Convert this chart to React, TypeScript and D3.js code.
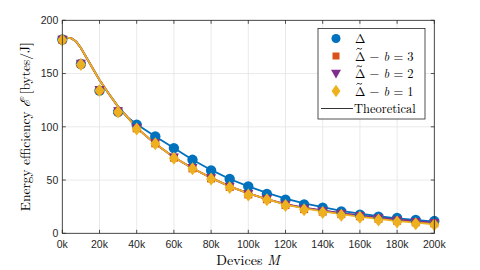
import * as d3 from "d3";

// devices (thousands) for the simulated points
const devicesK = [0, 10, 20, 30, 40, 50, 60, 70, 80, 90, 100, 110, 120, 130, 140, 150, 160, 170, 180, 190, 200];
const deltaVals = [182, 159, 134, 114, 102, 91, 80, 69, 59, 51, 44, 37, 31.5, 27, 24, 20.5, 17.5, 15.5, 14.5, 12.5, 11.5];
const b3Vals = [181.8, 159, 134.5, 114.5, 98.6, 84.5, 71, 61, 51.5, 43.5, 36.5, 32, 26.6, 22.7, 20.3, 18, 16, 13.6, 11.8, 10.3, 9.4];
const b2Vals = [182, 159.3, 134.8, 114.8, 99, 84.8, 71.3, 61.4, 51.9, 43.9, 37, 32.4, 27, 23.2, 20.8, 18.5, 16.5, 14.1, 12.3, 10.8, 9.9];
const b1Vals = [181.5, 158.5, 134, 114, 98, 84, 70.5, 60.5, 51, 43, 36, 31.5, 26, 22, 19.5, 17, 15, 12.5, 10.5, 9, 8];

// theoretical curves
const theoryK = [0, 2.5, 5, 7.5, 10, 15, 20, 25, 30, 35, 40, 50, 60, 70, 80, 90, 100, 110, 120, 130, 140, 150, 160, 170, 180, 190, 200];
const thDelta = [183.5, 183.8, 183, 180, 174, 159, 144, 131, 119, 109, 102.5, 91, 80, 69, 59.5, 51, 44, 38, 32.5, 28, 24.5, 21, 18.5, 16, 14, 12.5, 11];
const thB3 = [183.5, 183.8, 183, 180, 174, 159, 144, 131, 119, 109, 99, 84, 71.5, 61, 52, 44, 37.5, 32, 27.2, 23.8, 21, 18.6, 16.3, 14.3, 12.5, 11, 9.6];
const thB2 = [183.5, 183.8, 183, 180, 174, 159, 144, 131, 119, 109, 99, 84, 71.5, 61, 52, 44, 37.5, 32, 27.4, 24, 21.4, 19, 16.7, 14.7, 12.9, 11.4, 10];
const thB1 = [183.5, 183.8, 183, 180, 174, 159, 144, 131, 119, 109, 99, 84, 71.5, 61, 52, 44, 37.5, 32, 27, 23.5, 20.5, 18, 15.5, 13.5, 11.5, 10, 8.5];

const xTicks = [0, 20, 40, 60, 80, 100, 120, 140, 160, 180, 200];
const yTicks = [0, 50, 100, 150, 200];
const legendBs = ["3", "2", "1"];

const blue = "#0072BD";
const red = "#D95319";
const purple = "#7E2F8E";
const yellow = "#EDB120";
const axisCol = "#262626";
const sans = "'Liberation Sans', Arial, sans-serif";
const serif = "'Latin Modern Roman', 'DejaVu Serif', 'Liberation Serif', serif";

const diamond = "M0,-6.5 L5,0 L0,6.5 L-5,0 Z";
const tri = "M-5,-3.8 L5,-3.8 L0,5 Z";

function Tilde(props: { x: number; y: number }) {
  const { x, y } = props;
  return (
    <path
      d={`M${x},${y + 1} q1.2,-2 2.8,-0.8 t2.8,-0.4`}
      fill="none"
      stroke="#000"
      strokeWidth={0.8}
    />
  );
}

export default function App() {
  const x = d3.scaleLinear().domain([0, 200]).range([62.3, 434.3]);
  const y = d3.scaleLinear().domain([0, 200]).range([233.3, 20.3]);

  const line = d3
    .line<[number, number]>()
    .x((d) => x(d[0]))
    .y((d) => y(d[1]));

  const theory = [
    { vals: thDelta, color: blue },
    { vals: thB3, color: red },
    { vals: thB2, color: purple },
    { vals: thB1, color: yellow },
  ];

  const x0 = x.range()[0], x1 = x.range()[1];
  const y0 = y.range()[0], y1 = y.range()[1];

  const legX = 336;
  const legTxt = 355;
  const legRows = [60.5, 78, 95.5];
  const legFont = 12.5;

  return (
    <svg width={480} height={270} style={{ position: "absolute", left: 0, top: 0, background: "#fff" }}>
      {/* grid */}
      {xTicks.map((t) => (
        <line key={"gx" + t} x1={x(t)} x2={x(t)} y1={y0} y2={y1} stroke="#e3e3e3" strokeWidth={0.8} />
      ))}
      {yTicks.map((t) => (
        <line key={"gy" + t} x1={x0} x2={x1} y1={y(t)} y2={y(t)} stroke="#e3e3e3" strokeWidth={0.8} />
      ))}

      {/* theoretical lines */}
      {theory.map((s, i) => (
        <path
          key={"th" + i}
          d={line(theoryK.map((k, j) => [k, s.vals[j]] as [number, number]))!}
          fill="none"
          stroke={s.color}
          strokeWidth={1.8}
        />
      ))}

      {/* markers */}
      {devicesK.map((k, i) => (
        <circle key={"c" + i} cx={x(k)} cy={y(deltaVals[i])} r={5.2} fill={blue} />
      ))}
      {devicesK.map((k, i) => (
        <rect key={"s" + i} x={x(k) - 4} y={y(b3Vals[i]) - 4} width={8} height={8} fill={red} />
      ))}
      {devicesK.map((k, i) => (
        <path key={"t" + i} d={tri} transform={`translate(${x(k)},${y(b2Vals[i])})`} fill={purple} />
      ))}
      {devicesK.map((k, i) => (
        <path key={"d" + i} d={diamond} transform={`translate(${x(k)},${y(b1Vals[i])})`} fill={yellow} />
      ))}

      {/* axes box */}
      <rect x={x0} y={y1} width={x1 - x0} height={y0 - y1} fill="none" stroke={axisCol} strokeWidth={0.8} />
      {xTicks.map((t) => (
        <g key={"xt" + t}>
          <line x1={x(t)} x2={x(t)} y1={y0} y2={y0 - 3.5} stroke={axisCol} strokeWidth={0.8} />
          <line x1={x(t)} x2={x(t)} y1={y1} y2={y1 + 3.5} stroke={axisCol} strokeWidth={0.8} />
          <text x={x(t)} y={y0 + 15} textAnchor="middle" fontFamily={sans} fontSize={10.5} fill={axisCol}>
            {t + "k"}
          </text>
        </g>
      ))}
      {yTicks.map((t) => (
        <g key={"yt" + t}>
          <line x1={x0} x2={x0 + 3.5} y1={y(t)} y2={y(t)} stroke={axisCol} strokeWidth={0.8} />
          <line x1={x1} x2={x1 - 3.5} y1={y(t)} y2={y(t)} stroke={axisCol} strokeWidth={0.8} />
          <text x={x0 - 4} y={y(t) + 3.8} textAnchor="end" fontFamily={sans} fontSize={10.5} fill={axisCol}>
            {t}
          </text>
        </g>
      ))}

      {/* axis labels */}
      <text x={248} y={265} textAnchor="middle" fontFamily={serif} fontSize={14} fill="#000">
        Devices <tspan fontStyle="italic">M</tspan>
      </text>
      <text
        transform={`translate(30,${(y0 + y1) / 2}) rotate(-90)`}
        textAnchor="middle"
        fontFamily={serif}
        fontSize={13.5}
        fill="#000"
      >
        Energy efficiency <tspan fontStyle="italic">ℰ</tspan> [bytes/J]
      </text>

      {/* legend */}
      <rect x={318} y={28.5} width={107} height={90.5} fill="#fff" stroke={axisCol} strokeWidth={0.8} />
      <circle cx={legX} cy={38.5} r={4.5} fill={blue} />
      <text x={legTxt} y={43} fontFamily={serif} fontSize={legFont} fill="#000">Δ</text>

      <rect x={legX - 3.5} y={52.5} width={7} height={7} fill={red} />
      <path d={tri} transform={`translate(${legX},${73.5})`} fill={purple} />
      <path d={diamond} transform={`translate(${legX},${91}) scale(0.9,0.95)`} fill={yellow} />

      {legendBs.map((b, i) => (
        <g key={"lg" + b}>
          <Tilde x={legTxt + 1.5} y={legRows[i] - 12} />
          <text x={legTxt} y={legRows[i]} fontFamily={serif} fontSize={legFont} fill="#000">
            Δ − <tspan fontStyle="italic">b</tspan> = {b}
          </text>
        </g>
      ))}

      <line x1={321} x2={353} y1={108.5} y2={108.5} stroke="#000" strokeWidth={0.8} />
      <text x={legTxt - 1} y={113} fontFamily={serif} fontSize={legFont} fill="#000">Theoretical</text>
    </svg>
  );
}
